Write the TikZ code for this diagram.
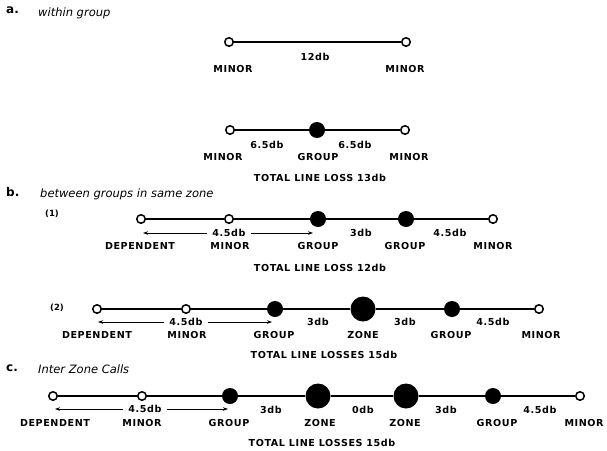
\documentclass[tikz,border=0pt]{standalone}
\usepackage{fontspec}
\setmainfont{DejaVu Sans}
\newfontfamily\lblfont[LetterSpace=6]{DejaVu Sans}
\usetikzlibrary{arrows.meta}
\tikzset{
  minor/.style={circle,draw,fill=white,line width=1.5pt,inner sep=0pt,minimum size=8.5pt},
  groupdot/.style={circle,fill=black,inner sep=0pt,minimum size=16pt},
  zonedot/.style={circle,fill=black,inner sep=0pt,minimum size=25pt},
  lbl/.style={font=\lblfont\bfseries\fontsize{9.6}{10}\selectfont,inner sep=1pt},
  db/.style={font=\lblfont\bfseries\fontsize{9.6}{10}\selectfont,inner sep=1pt},
  ttl/.style={font=\lblfont\bfseries\fontsize{9.6}{10}\selectfont,inner sep=1pt},
  head/.style={font=\itshape\fontsize{11.5}{12}\selectfont,anchor=west,inner sep=0pt},
  sec/.style={font=\bfseries\fontsize{12}{13}\selectfont,anchor=west,inner sep=0pt},
  num/.style={font=\bfseries\fontsize{8.5}{9}\selectfont,inner sep=0pt},
  link/.style={line width=1.3pt},
  arr/.style={line width=0.7pt,-{Stealth[length=5pt,width=3.5pt]}},
  arrdb/.style={font=\lblfont\bfseries\fontsize{9.6}{10}\selectfont,inner xsep=5pt,inner ysep=1pt}
}
\begin{document}
\begin{tikzpicture}[x=1pt,y=-1pt]
\useasboundingbox (0,0) rectangle (607,450);
% ---------- a ----------
\node[sec] (sa) at (6,10) {a.};
\node[head] (ha) at (38,13) {within group};
\node[minor] (a1) at (229,42) {};
\node[minor] (a2) at (406,42) {};
\draw[link] (a1) -- (a2);
\node[db] (a12) at (315,57) {12db};
\node[lbl] (la1) at (233,69) {MINOR};
\node[lbl] (la2) at (405,69) {MINOR};

\node[minor] (b1) at (230,130) {};
\node[groupdot] (b2) at (317,130) {};
\node[minor] (b3) at (405,130) {};
\draw[link] (b1) -- (b2) -- (b3);
\node[db] (db1) at (267,145) {6.5db};
\node[db] (db2) at (355,145) {6.5db};
\node[lbl] (lb1) at (223,157) {MINOR};
\node[lbl] (lb2) at (318,157) {GROUP};
\node[lbl] (lb3) at (409,157) {MINOR};
\node[ttl] (tb) at (320,178) {TOTAL LINE LOSS 13db};
% ---------- b ----------
\node[sec] (sb) at (6,192) {b.};
\node[head] (hb) at (40,194) {between groups in same zone};
\node[num] (n1) at (52,214) {(1)};
\node[minor] (c1) at (141,219) {};
\node[minor] (c2) at (229,219) {};
\node[groupdot] (c3) at (318,219) {};
\node[groupdot] (c4) at (406,219) {};
\node[minor] (c5) at (493,219) {};
\draw[link] (c1) -- (c2) -- (c3) -- (c4) -- (c5);
\node[arrdb] (dc1) at (229,233) {4.5db};
\coordinate (cl) at (143,233);
\coordinate (cr) at (313,233);
\draw[arr] (dc1.west) -- (cl);
\draw[arr] (dc1.east) -- (cr);
\node[db] (dc2) at (361,233) {3db};
\node[db] (dc3) at (450,233) {4.5db};
\node[lbl] (lc1) at (140,246) {DEPENDENT};
\node[lbl] (lc2) at (230,246) {MINOR};
\node[lbl] (lc3) at (318,246) {GROUP};
\node[lbl] (lc4) at (405,246) {GROUP};
\node[lbl] (lc5) at (493,246) {MINOR};
\node[ttl] (tc) at (320,268) {TOTAL LINE LOSS 12db};

\node[num] (n2) at (57,308) {(2)};
\node[minor] (d1) at (97,309) {};
\node[minor] (d2) at (186,309) {};
\node[groupdot] (d3) at (275,309) {};
\node[zonedot] (d4) at (363,309) {};
\node[groupdot] (d5) at (452,309) {};
\node[minor] (d6) at (539,309) {};
\draw[link] (d1) -- (d2) -- (d3) -- (d4) -- (d5) -- (d6);
\node[arrdb] (dd1) at (186,322) {4.5db};
\coordinate (dl) at (98,322);
\coordinate (dr) at (272,322);
\draw[arr] (dd1.west) -- (dl);
\draw[arr] (dd1.east) -- (dr);
\node[db] (dd2) at (318,322) {3db};
\node[db] (dd3) at (405,322) {3db};
\node[db] (dd4) at (493,322) {4.5db};
\node[lbl] (ld1) at (97,335) {DEPENDENT};
\node[lbl] (ld2) at (187,335) {MINOR};
\node[lbl] (ld3) at (274,335) {GROUP};
\node[lbl] (ld4) at (363,335) {ZONE};
\node[lbl] (ld5) at (451,335) {GROUP};
\node[lbl] (ld6) at (541,335) {MINOR};
\node[ttl] (td) at (324,355) {TOTAL LINE LOSSES 15db};
% ---------- c ----------
\node[sec] (sc) at (6,368) {c.};
\node[head] (hc) at (38,369) {Inter Zone Calls};
\node[minor] (e1) at (53,396) {};
\node[minor] (e2) at (142,396) {};
\node[groupdot] (e3) at (230,396) {};
\node[zonedot] (e4) at (318,396) {};
\node[zonedot] (e5) at (406,396) {};
\node[groupdot] (e6) at (493,396) {};
\node[minor] (e7) at (580,396) {};
\draw[link] (e1) -- (e2) -- (e3) -- (e4) -- (e5) -- (e6) -- (e7);
\node[arrdb] (de1) at (145,409) {4.5db};
\coordinate (el) at (55,409);
\coordinate (er) at (228,409);
\draw[arr] (de1.west) -- (el);
\draw[arr] (de1.east) -- (er);
\node[db] (de2) at (271,410) {3db};
\node[db] (de3) at (363,410) {0db};
\node[db] (de4) at (446,410) {3db};
\node[db] (de5) at (540,410) {4.5db};
\node[lbl] (le1) at (55,423) {DEPENDENT};
\node[lbl] (le2) at (142,423) {MINOR};
\node[lbl] (le3) at (229,423) {GROUP};
\node[lbl] (le4) at (320,423) {ZONE};
\node[lbl] (le5) at (405,423) {ZONE};
\node[lbl] (le6) at (497,423) {GROUP};
\node[lbl] (le7) at (584,423) {MINOR};
\node[ttl] (te) at (322,443) {TOTAL LINE LOSSES 15db};
\end{tikzpicture}
\end{document}
